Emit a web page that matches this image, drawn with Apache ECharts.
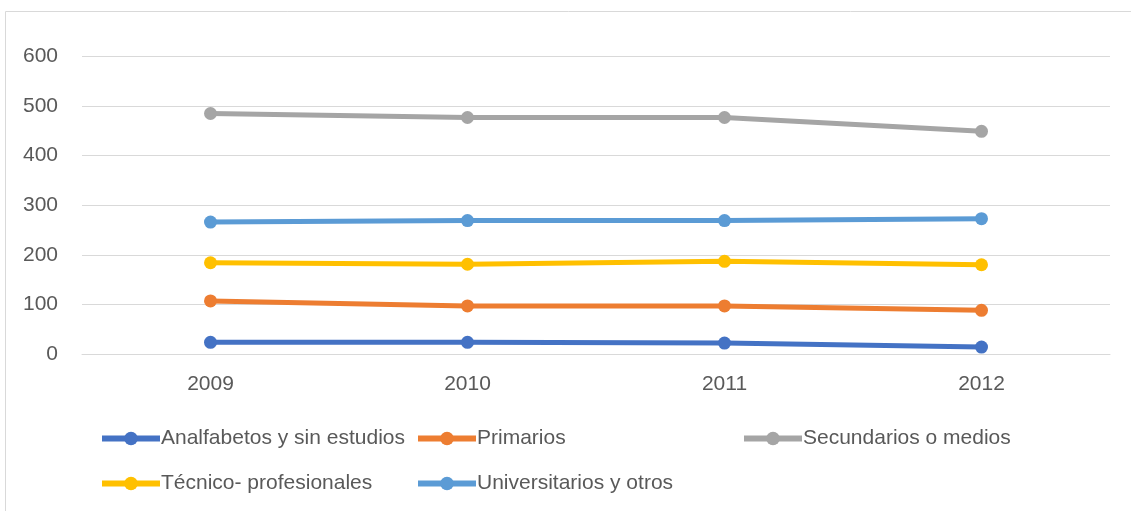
<!DOCTYPE html>
<html>
<head>
<meta charset="utf-8">
<script src="https://cdn.jsdelivr.net/npm/echarts@6/dist/echarts.min.js"></script>
<style>
  html, body { margin: 0; padding: 0; background: #fff; }
  #chart { width: 1131px; height: 511px; }
</style>
</head>
<body>
<div id="chart"></div>
<script>
// datos
var years = ['2009', '2010', '2011', '2012'];
var analfabetos = [23.5, 23.5, 22, 14];
var primarios = [107, 97, 97, 88];
var secundarios = [485, 477, 477, 449];
var tecnicos = [184, 181, 187, 180];
var universitarios = [266, 269, 269, 273];
var yTicks = [0, 100, 200, 300, 400, 500, 600];

var seriesNames = ['Analfabetos y sin estudios', 'Primarios', 'Secundarios o medios',
  'Técnico- profesionales', 'Universitarios y otros'];
var seriesData = [analfabetos, primarios, secundarios, tecnicos, universitarios];
var colors = ['#4472C4', '#ED7D31', '#A5A5A5', '#FFC000', '#5B9BD5'];

var font = 'Liberation Sans';
var textColor = '#595959';

var chart = echarts.init(document.getElementById('chart'));

// una leyenda por elemento para copiar el reparto en columnas
var legendPos = [
  { left: 99, top: 428 },
  { left: 415, top: 428 },
  { left: 741, top: 428 },
  { left: 99, top: 473 },
  { left: 415, top: 473 }
];
var legends = legendPos.map(function (p, i) {
  return {
    left: p.left,
    top: p.top,
    padding: 0,
    data: [seriesNames[i]],
    itemWidth: 58,
    itemHeight: 17,
    itemGap: 0,
    lineStyle: { width: 6 },
    textStyle: { fontFamily: font, fontSize: 21, color: textColor, padding: [0, 0, 0, -4] },
    selectedMode: false
  };
});

var option = {
  animation: false,
  color: colors,
  graphic: [{
    type: 'rect',
    shape: { x: 5.5, y: 11.5, width: 1140, height: 520 },
    style: { fill: 'none', stroke: '#D9D9D9', lineWidth: 1 },
    silent: true
  }],
  legend: legends,
  grid: { left: 82, right: 21, top: 56.5, bottom: 157 },
  xAxis: {
    type: 'category',
    data: years,
    boundaryGap: true,
    axisLine: { show: true, lineStyle: { color: '#D9D9D9', width: 1 } },
    axisTick: { show: false },
    axisLabel: { fontFamily: font, fontSize: 21, color: textColor, margin: 20 }
  },
  yAxis: {
    type: 'value',
    min: yTicks[0],
    max: yTicks[yTicks.length - 1],
    interval: 100,
    axisLine: { show: false },
    axisTick: { show: false },
    axisLabel: { fontFamily: font, fontSize: 21, color: textColor, margin: 24 },
    splitLine: { lineStyle: { color: '#D9D9D9', width: 1 } }
  },
  series: seriesNames.map(function (name, i) {
    return {
      name: name,
      type: 'line',
      data: seriesData[i],
      symbol: 'circle',
      symbolSize: 13,
      lineStyle: { width: 5, color: colors[i] },
      itemStyle: { color: colors[i] }
    };
  })
};

chart.setOption(option);
</script>
</body>
</html>
